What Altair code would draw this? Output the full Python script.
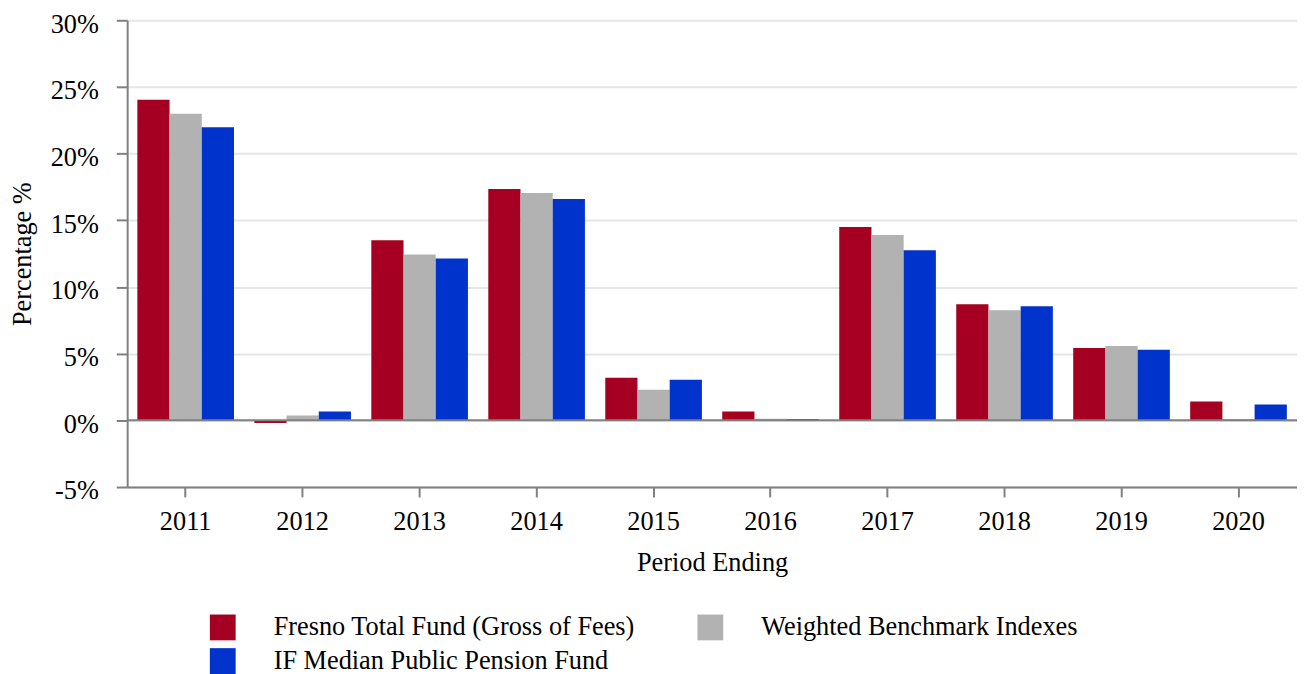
import altair as alt
import pandas as pd

years = ["2011", "2012", "2013", "2014", "2015", "2016", "2017", "2018", "2019", "2020"]
series = ["Fresno Total Fund (Gross of Fees)", "Weighted Benchmark Indexes", "IF Median Public Pension Fund"]
fresno = [24.05, -0.2, 13.5, 17.35, 3.2, 0.67, 14.5, 8.7, 5.43, 1.41]
weighted = [23.0, 0.37, 12.43, 17.05, 2.3, 0.12, 13.9, 8.26, 5.58, 0.1]
ifmedian = [21.97, 0.67, 12.14, 16.6, 3.05, 0.1, 12.75, 8.56, 5.29, 1.19]
colors = ["#a50021", "#b2b2b2", "#0033cc"]
y_ticks = [-5, 0, 5, 10, 15, 20, 25, 30]

rows = []
for name, vals in zip(series, [fresno, weighted, ifmedian]):
    for yr, v in zip(years, vals):
        rows.append({"year": yr, "series": name, "value": v})
df = pd.DataFrame(rows)

FONT = "Times New Roman, Liberation Serif, DejaVu Serif, serif"
FS = 26.5

bars = alt.Chart(df).mark_bar().encode(
    x=alt.X("year:N", sort=years,
            scale=alt.Scale(paddingInner=0.174, paddingOuter=0.087),
            axis=alt.Axis(title="Period Ending", labelAngle=0, tickSize=10,
                          labelPadding=12, titlePadding=15, grid=False,
                          domainColor="#808080", domainWidth=2,
                          tickColor="#808080", tickWidth=2)),
    xOffset=alt.XOffset("series:N", sort=series, scale=alt.Scale(paddingInner=0, paddingOuter=0)),
    y=alt.Y("value:Q", scale=alt.Scale(domain=[-5, 30], nice=False, zero=False),
            axis=alt.Axis(title="Percentage %", values=y_ticks, labelExpr="datum.value + '%'",
                          tickSize=11, labelPadding=18, titlePadding=14, labelOffset=4,
                          gridColor="#e6e6e6", gridWidth=2,
                          domainColor="#808080", domainWidth=2,
                          tickColor="#808080", tickWidth=2)),
    color=alt.Color("series:N", sort=series,
                    scale=alt.Scale(domain=series, range=colors),
                    legend=alt.Legend(title=None, orient="none", legendX=83, legendY=598,
                                      columns=2, direction="horizontal",
                                      symbolType="square", symbolSize=676,
                                      symbolStrokeWidth=0, labelOffset=38,
                                      columnPadding=62, rowPadding=7, labelLimit=0,
                                      labelFont=FONT, labelFontSize=FS,
                                      labelColor="#000000", padding=0)),
)

zero = alt.Chart(pd.DataFrame({"v": [0]})).mark_rule(color="#808080", strokeWidth=2).encode(
    y=alt.Y("v:Q")
)

chart = alt.layer(bars, zero).properties(
    width=1178, height=470,
    autosize=alt.AutoSizeParams(type="none"),
    padding={"left": 120, "top": 10, "right": 0, "bottom": 200},
).configure_axis(
    labelFont=FONT, titleFont=FONT, labelFontSize=FS, titleFontSize=FS,
    labelColor="#000000", titleColor="#000000", titleFontWeight="normal"
).configure_view(stroke=None)

chart.save("out.html", embed_options={"renderer": "svg", "actions": False})
